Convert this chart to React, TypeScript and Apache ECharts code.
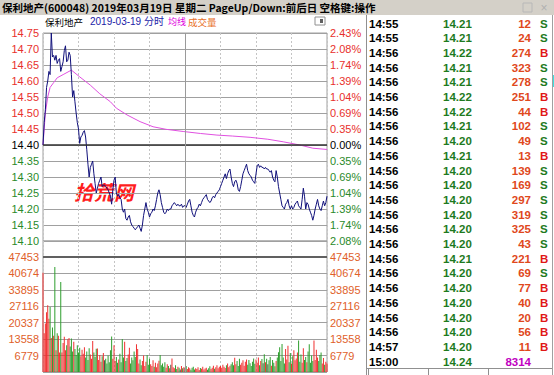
import React, { useEffect, useRef } from "react";
import * as echarts from "echarts";

// ---------- data ----------
const TITLE = "保利地产(600048) 2019年03月19日 星期二 PageUp/Down:前后日 空格键:操作";
const PREV_CLOSE = 14.4;
const PRICE_MIN = 14.1;
const PRICE_MAX = 14.75;
const PRICE_STEP = 0.05;
const VOL_MAX = 47453;
const VOL_STEP = 6779;
const TIME_LABELS: Record<number, string> = { 0: "09:30", 60: "10:30", 120: "11:30", 180: "14:00", 240: "15:00" };

// per-minute price (09:30 .. 15:00, 241 minutes)
const PRICE: number[] = [
  14.40, 14.47, 14.51, 14.58, 14.60, 14.63, 14.62, 14.75, 14.675, 14.68,
  14.665, 14.68, 14.655, 14.665, 14.67, 14.63, 14.645, 14.66, 14.695, 14.71,
  14.66, 14.665, 14.69, 14.68, 14.62, 14.55, 14.57, 14.535, 14.50, 14.47,
  14.45, 14.405, 14.425, 14.43, 14.44, 14.445, 14.425, 14.385, 14.34, 14.30,
  14.33, 14.34, 14.35, 14.31, 14.28, 14.25, 14.265, 14.28, 14.29, 14.30,
  14.27, 14.275, 14.275, 14.27, 14.265, 14.26, 14.25, 14.24, 14.215, 14.26,
  14.29, 14.30, 14.25, 14.24, 14.245, 14.235, 14.23, 14.20, 14.19, 14.20,
  14.17, 14.165, 14.175, 14.18, 14.16, 14.15, 14.145, 14.14, 14.135, 14.14,
  14.145, 14.15, 14.14, 14.13, 14.15, 14.18, 14.20, 14.22, 14.20, 14.19,
  14.175, 14.185, 14.19, 14.20, 14.195, 14.21, 14.23, 14.25, 14.26, 14.245,
  14.22, 14.205, 14.19, 14.185, 14.19, 14.20, 14.195, 14.20, 14.20, 14.21,
  14.215, 14.22, 14.215, 14.21, 14.215, 14.21, 14.21, 14.215, 14.205, 14.21,
  14.21, 14.205, 14.215, 14.225, 14.23, 14.21, 14.19, 14.18, 14.175, 14.19,
  14.20, 14.205, 14.215, 14.21, 14.22, 14.23, 14.235, 14.24, 14.245, 14.23,
  14.225, 14.22, 14.225, 14.235, 14.24, 14.235, 14.245, 14.25, 14.255, 14.26,
  14.27, 14.28, 14.29, 14.30, 14.31, 14.295, 14.31, 14.32, 14.325, 14.30,
  14.28, 14.27, 14.285, 14.29, 14.28, 14.26, 14.255, 14.27, 14.29, 14.31,
  14.32, 14.33, 14.34, 14.32, 14.31, 14.305, 14.30, 14.29, 14.285, 14.28,
  14.31, 14.335, 14.34, 14.33, 14.335, 14.33, 14.33, 14.325, 14.33, 14.325,
  14.325, 14.32, 14.315, 14.32, 14.30, 14.29, 14.285, 14.32, 14.30, 14.27,
  14.25, 14.23, 14.21, 14.205, 14.20, 14.215, 14.22, 14.23, 14.21, 14.20,
  14.21, 14.20, 14.205, 14.215, 14.22, 14.225, 14.21, 14.205, 14.20, 14.23,
  14.265, 14.24, 14.20, 14.22, 14.215, 14.20, 14.19, 14.18, 14.165, 14.18,
  14.20, 14.215, 14.23, 14.21, 14.20, 14.195, 14.21, 14.225, 14.21, 14.22,
  14.24,
];

// average price line [minute, price]
const AVG_POINTS: [number, number][] = [
  [0, 14.40], [1, 14.45], [2, 14.50], [4, 14.55], [6, 14.58], [9, 14.595], [12, 14.61],
  [17, 14.62], [24, 14.634], [31, 14.613], [40, 14.587], [48, 14.56], [57, 14.535],
  [62, 14.515], [71, 14.494], [82, 14.473], [93, 14.457], [104, 14.449], [119, 14.442],
  [133, 14.436], [147, 14.431], [160, 14.428], [175, 14.424], [190, 14.418], [203, 14.41],
  [217, 14.40], [228, 14.39], [240, 14.386],
];

// per-minute volume
const VOLUME: number[] = [
  41000, 16000, 20000, 24700, 27500, 22000, 26800, 14000, 18400, 15000,
  43300, 9000, 16000, 15000, 8000, 37100, 8000, 12000, 14500, 9000,
  11000, 13500, 14000, 10500, 13800, 8500, 12500, 9500, 7000, 11000,
  8000, 10000, 6500, 9200, 7500, 10200, 6000, 8500, 5000, 9800,
  7200, 5500, 12800, 8000, 6200, 9600, 9700, 5000, 7000, 4200,
  6500, 7800, 4800, 5500, 3500, 6800, 4000, 9000, 14700, 5500,
  11000, 4500, 6200, 3800, 5200, 7500, 4000, 13600, 6000, 12500,
  4500, 5800, 7200, 10000, 3500, 6000, 4800, 8500, 6200, 11500,
  9500, 3500, 5200, 2800, 4500, 6800, 2500, 4200, 7000, 3000,
  5500, 3200, 2500, 4800, 2200, 3800, 2000, 3500, 4600, 7000,
  2800, 3500, 2200, 4000, 1800, 3200, 2500, 1500, 3000, 5600,
  2000, 1500, 2800, 1200, 2200, 1800, 1000, 2500, 1500, 2000,
  1800, 2500, 1200, 2000, 1500, 900, 1800, 2200, 1000, 1500,
  1200, 2000, 800, 1600, 1300, 2200, 1000, 1400, 1800, 900,
  1500, 2400, 1200, 1800, 2600, 1300, 2000, 2800, 1500, 2200,
  2500, 1800, 3000, 2200, 1600, 2800, 3500, 2000, 2600, 3200,
  4000, 2800, 5900, 3200, 4500, 2500, 5500, 3000, 3800, 4800,
  2600, 4200, 5200, 3000, 5000, 3600, 2500, 4200, 5600, 3400,
  5200, 3800, 6000, 2800, 4500, 5400, 3600, 7300, 4000, 5500,
  3200, 4800, 6200, 2600, 5000, 3800, 2400, 4500, 6000, 8200,
  10200, 4500, 11600, 6000, 3500, 9500, 5200, 10800, 4000, 7800,
  3500, 6500, 9000, 4800, 5600, 8000, 13000, 4200, 7200, 3800,
  9800, 5000, 6200, 4000, 8500, 11500, 3800, 6800, 4500, 13000,
  5000, 9200, 6000, 4500, 7000, 8000, 3500, 5800, 3000, 4200,
  3500,
];

// tick-by-tick table
const TICK_TIMES = ["14:55", "14:55", "14:56", "14:56", "14:56", "14:56", "14:56", "14:56", "14:56", "14:56", "14:56", "14:56", "14:56", "14:56", "14:56", "14:56", "14:56", "14:56", "14:56", "14:56", "14:56", "14:56", "14:57", "15:00"];
const TICK_PRICES = ["14.21", "14.21", "14.22", "14.21", "14.21", "14.22", "14.22", "14.21", "14.20", "14.21", "14.20", "14.20", "14.20", "14.20", "14.20", "14.20", "14.21", "14.20", "14.20", "14.20", "14.20", "14.20", "14.20", "14.24"];
const TICK_VOLS = ["12", "24", "274", "323", "278", "251", "44", "102", "49", "13", "139", "169", "297", "319", "325", "43", "221", "69", "77", "40", "20", "56", "11", "8314"];
const TICK_SIDES = ["S", "S", "B", "S", "S", "B", "B", "S", "S", "B", "S", "S", "S", "S", "S", "S", "B", "S", "B", "B", "B", "B", "B", ""];

// ---------- styles ----------
const FONT = '"Liberation Sans", Arial, "Noto Sans CJK SC", sans-serif';
const CJK = '"Noto Sans CJK SC", "Liberation Sans", sans-serif';
const RED = "#e8302c";
const GREEN = "#2a8a2a";
const ORANGE = "#e0602a";
const GRID_LINE = "#a0a0a0";
const DASH_LINE = "#c4c4c4";

const priceColor = (v: any) => {
  const n = Number(v);
  if (Math.abs(n - PREV_CLOSE) < 1e-6) return "#000";
  return n > PREV_CLOSE ? RED : GREEN;
};

export default function App() {
  const ref = useRef<HTMLDivElement>(null);
  useEffect(() => {
    if (!ref.current) return;
    const chart = echarts.init(ref.current, undefined, { renderer: "svg" });

    const barColor = (i: number) => {
      const prev = i === 0 ? PREV_CLOSE - 0.01 : PRICE[i - 1];
      const d = PRICE[i] - prev;
      if (Math.abs(d) < 1e-6) return "#505040";
      return d > 0 ? "#f03030" : "#2e9e2e";
    };

    const rowY = (i: number) => 23.5 + i * 14.7;
    const tableFont = { fontFamily: FONT, fontSize: 11.5, fontWeight: "bold" as const };
    const graphics: any[] = [
      { type: "rect", shape: { x: 0, y: 0, width: 554, height: 15 }, style: { fill: "#d4d0c8" } },
      {
        type: "text", x: 2, y: 7.5,
        style: { text: TITLE, fontFamily: CJK, fontSize: 10.5, lineHeight: 12, fontWeight: "bold", fill: "#000", verticalAlign: "middle" },
      },
      { type: "rect", shape: { x: 523, y: 3, width: 9, height: 9 }, style: { fill: "none", stroke: "#b8b8b8", lineWidth: 1 } },
      { type: "text", x: 544, y: 8, style: { text: "×", fontFamily: FONT, fontSize: 12, lineHeight: 12, fill: "#b0b0b0", align: "center", verticalAlign: "middle" } },
      // sub header
      { type: "text", x: 45, y: 21.5, style: { text: "保利地产", fontFamily: CJK, fontSize: 9.5, lineHeight: 10, fill: "#000", verticalAlign: "middle" } },
      { type: "text", x: 90, y: 21.5, style: { text: "2019-03-19 分时", fontFamily: FONT, fontSize: 10, lineHeight: 10, fill: "#1c1ca8", verticalAlign: "middle" } },
      { type: "text", x: 168, y: 21.5, style: { text: "均线", fontFamily: CJK, fontSize: 9, lineHeight: 10, fill: "#e000e0", verticalAlign: "middle" } },
      { type: "text", x: 188, y: 21.5, style: { text: "成交量", fontFamily: CJK, fontSize: 9.5, lineHeight: 10, fill: "#e87028", verticalAlign: "middle" } },
      { type: "rect", shape: { x: 315, y: 17, width: 10, height: 8 }, style: { fill: "#fff", stroke: "#909090", lineWidth: 1 } },
      { type: "rect", shape: { x: 320, y: 19, width: 3, height: 4 }, style: { fill: "#606060" } },
      // watermark
      {
        type: "text", x: 74, y: 191,
        style: { text: "拾荒网", fontFamily: CJK, fontSize: 20, fontStyle: "italic", fontWeight: "bold", fill: "#ff1e1e", verticalAlign: "middle" },
      },
      // right panel borders
      { type: "line", shape: { x1: 366.5, y1: 15, x2: 366.5, y2: 375 }, style: { stroke: "#909090", lineWidth: 1 } },
      { type: "line", shape: { x1: 552.5, y1: 15, x2: 552.5, y2: 375 }, style: { stroke: "#a0a0a0", lineWidth: 1 } },
      { type: "rect", shape: { x: 553, y: 75, width: 2, height: 12 }, style: { fill: "#40e0e0" } },
      { type: "line", shape: { x1: 367, y1: 368.5, x2: 552, y2: 368.5 }, style: { stroke: "#909090", lineWidth: 1 } },
      { type: "line", shape: { x1: 368.5, y1: 369, x2: 368.5, y2: 375 }, style: { stroke: "#909090", lineWidth: 1 } },
      { type: "line", shape: { x1: 428.5, y1: 369, x2: 428.5, y2: 375 }, style: { stroke: "#909090", lineWidth: 1 } },
      { type: "line", shape: { x1: 488.5, y1: 369, x2: 488.5, y2: 375 }, style: { stroke: "#909090", lineWidth: 1 } },
    ];
    TICK_TIMES.forEach((t, i) => {
      const y = rowY(i);
      graphics.push({ type: "text", x: 369, y, style: { text: t, ...tableFont, fill: "#000", verticalAlign: "middle" } });
      graphics.push({ type: "text", x: 443, y, style: { text: TICK_PRICES[i], ...tableFont, fill: "#1e7a1e", verticalAlign: "middle" } });
      graphics.push({
        type: "text", x: 531, y,
        style: { text: TICK_VOLS[i], ...tableFont, fill: TICK_SIDES[i] ? "#e0481c" : "#c000c0", align: "right", verticalAlign: "middle" },
      });
      if (TICK_SIDES[i]) {
        graphics.push({
          type: "text", x: 540, y,
          style: { text: TICK_SIDES[i], ...tableFont, fill: TICK_SIDES[i] === "B" ? "#e01818" : "#1e7a1e", verticalAlign: "middle" },
        });
      }
    });

    const xAxisBase = (gridIndex: number, labels: boolean) => ({
      type: "value", gridIndex, min: 0, max: 240, interval: 30,
      axisLine: { show: false }, axisTick: { show: false },
      axisLabel: labels
        ? {
            show: true, margin: 2, fontSize: 11, fontFamily: FONT, color: "#000", align: "right", verticalAlign: "top",
            formatter: (v: number) => TIME_LABELS[v] ?? "",
          }
        : { show: false },
      splitLine: { show: true, lineStyle: { color: DASH_LINE, type: [2, 2], width: 1 } },
    });

    const midLine = { xAxis: 120, lineStyle: { color: "#9a9a9a", type: "solid", width: 1 } };
    const gridBase = { show: true, borderColor: GRID_LINE, borderWidth: 1, outerBoundsMode: "none", containLabel: false };

    chart.setOption({
      animation: false,
      backgroundColor: "#fff",
      grid: [
        { ...gridBase, left: 43, top: 33, width: 284, height: 208 },
        { ...gridBase, left: 43, top: 241, width: 284, height: 16 },
        { ...gridBase, left: 43, top: 257, width: 284, height: 115 },
      ],
      xAxis: [xAxisBase(0, false), xAxisBase(1, false), xAxisBase(2, true)],
      yAxis: [
        {
          type: "value", gridIndex: 0, min: PRICE_MIN, max: PRICE_MAX, interval: PRICE_STEP, position: "left",
          axisLine: { show: false }, axisTick: { show: false },
          axisLabel: { fontSize: 11, fontFamily: FONT, margin: 4, color: priceColor, formatter: (v: number) => v.toFixed(2) },
          splitLine: { show: true, lineStyle: { color: GRID_LINE, width: 1 } },
        },
        {
          type: "value", gridIndex: 0, min: PRICE_MIN, max: PRICE_MAX, interval: PRICE_STEP, position: "right",
          axisLine: { show: false }, axisTick: { show: false },
          axisLabel: {
            fontSize: 11, fontFamily: FONT, margin: 3, color: priceColor,
            formatter: (v: number) => ((Math.abs(v - PREV_CLOSE) / PREV_CLOSE) * 100).toFixed(2) + "%",
          },
          splitLine: { show: false },
        },
        { type: "value", gridIndex: 1, min: 0, max: 1, show: false },
        {
          type: "value", gridIndex: 2, min: 0, max: VOL_MAX, interval: VOL_STEP, position: "left",
          axisLine: { show: false }, axisTick: { show: false },
          axisLabel: { fontSize: 11, fontFamily: FONT, margin: 4, color: ORANGE, formatter: (v: number) => (v === 0 ? "" : String(v)) },
          splitLine: { show: true, lineStyle: { color: GRID_LINE, width: 1 } },
        },
        {
          type: "value", gridIndex: 2, min: 0, max: VOL_MAX, interval: VOL_STEP, position: "right",
          axisLine: { show: false }, axisTick: { show: false },
          axisLabel: { fontSize: 11, fontFamily: FONT, margin: 3, color: ORANGE, formatter: (v: number) => (v === 0 ? "" : String(v)) },
          splitLine: { show: false },
        },
      ],
      series: [
        {
          type: "line", name: "price", xAxisIndex: 0, yAxisIndex: 0, symbol: "none",
          data: PRICE.map((p, i) => [i, p]),
          lineStyle: { color: "#10107a", width: 1 }, itemStyle: { color: "#10107a" }, z: 4,
          markLine: {
            silent: true, symbol: "none", label: { show: false },
            data: [{ yAxis: PREV_CLOSE, lineStyle: { color: "#303030", type: "solid", width: 1.5 } }, midLine],
          },
        },
        {
          type: "line", name: "avg", xAxisIndex: 0, yAxisIndex: 0, symbol: "none",
          data: AVG_POINTS, lineStyle: { color: "#e050e0", width: 1 }, itemStyle: { color: "#e050e0" }, z: 3,
        },
        {
          type: "line", xAxisIndex: 1, yAxisIndex: 2, data: [], symbol: "none",
          markLine: { silent: true, symbol: "none", label: { show: false }, data: [midLine] },
        },
        {
          type: "bar", name: "volume", xAxisIndex: 2, yAxisIndex: 3, barWidth: 1,
          data: VOLUME.map((v, i) => ({ value: [i, v], itemStyle: { color: barColor(i) } })),
          markLine: {
            silent: true, symbol: "none", label: { show: false },
            data: [midLine, { yAxis: VOL_MAX, lineStyle: { color: "#606060", type: "solid", width: 2 } }],
          },
        },
      ],
      graphic: graphics,
    });
    return () => chart.dispose();
  }, []);
  return <div ref={ref} style={{ position: "fixed", left: 0, top: 0, width: 554, height: 375 }} />;
}
